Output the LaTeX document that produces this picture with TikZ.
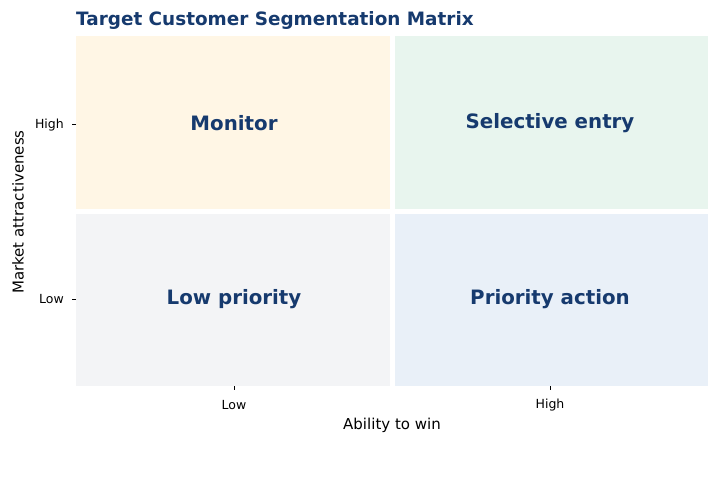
\documentclass[tikz,border=0pt]{standalone}
\usepackage{fontspec}
\setmainfont{DejaVu Sans}
\begin{document}
\begin{tikzpicture}[x=1pt,y=-1pt,
  quad/.style={draw=none,inner sep=0pt,anchor=north west},
  qlab/.style={font=\fontsize{19.8}{22}\selectfont\bfseries,text=titleblue},
  tick/.style={font=\fontsize{12.5}{14}\selectfont},
  axl/.style={font=\fontsize{15}{17}\selectfont}]
\definecolor{titleblue}{HTML}{163A6E}
\definecolor{cMon}{HTML}{FFF6E5}
\definecolor{cSel}{HTML}{E8F5EE}
\definecolor{cLow}{HTML}{F3F4F6}
\definecolor{cPri}{HTML}{E9F0F8}
\useasboundingbox (0,0) rectangle (720,479);
\fill[white] (0,0) rectangle (720,479);
\fill[cMon] (76,36) rectangle (390,209);
\fill[cSel] (395,36) rectangle (708,209);
\fill[cLow] (76,214) rectangle (390,386);
\fill[cPri] (395,214) rectangle (708,386);
\node[qlab] (mon) at (234,123) {Monitor};
\node[qlab] (sel) at (550,123) {Selective entry};
\node[qlab] (low) at (234,299) {Low priority};
\node[qlab] (pri) at (550,299) {Priority action};
\node[anchor=west,font=\fontsize{18.4}{20}\selectfont\bfseries,text=titleblue,inner sep=0pt] (title) at (76,20) {Target Customer Segmentation Matrix};
\coordinate (yh) at (76,124); \coordinate (yl) at (76,299);
\coordinate (xl) at (234,386); \coordinate (xh) at (550,386);
\draw (yh) -- ++(-4,0); \draw (yl) -- ++(-4,0);
\draw (xl) -- ++(0,4); \draw (xh) -- ++(0,4);
\node[tick,anchor=east,inner sep=0pt] (th) at (64,125) {High};
\node[tick,anchor=east,inner sep=0pt] (tl) at (64,299) {Low};
\node[tick] (tx1) at (234,405) {Low};
\node[tick] (tx2) at (550,405) {High};
\node[axl] (xlab) at (392,425) {Ability to win};
\node[axl,rotate=90] (ylab) at (18,212) {Market attractiveness};
\end{tikzpicture}
\end{document}
